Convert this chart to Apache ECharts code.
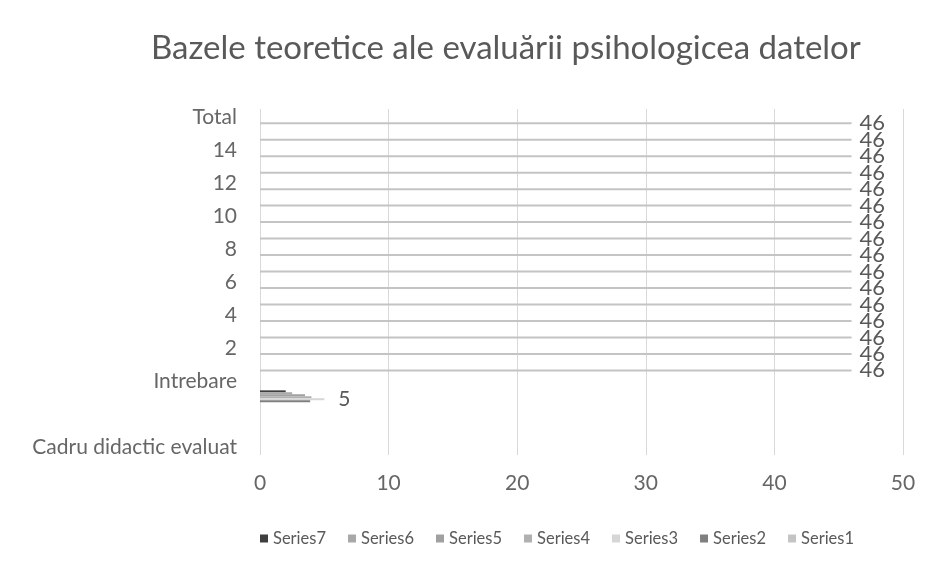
<!DOCTYPE html>
<html><head><meta charset="utf-8">
<script src="https://cdn.jsdelivr.net/npm/echarts@6/dist/echarts.min.js"></script>
<style>html,body{margin:0;padding:0;background:#fff}#c{width:933px;height:567px}</style>
</head><body><div id="c"></div>
<script>
const titleText = 'Bazele teoretice ale evaluării psihologicea datelor';
const categories = ['Cadru didactic evaluat','','','','Intrebare','1','2','3','4','5','6','7','8','9','10','11','12','13','14','15','Total'];
const seriesNames = ['Series7','Series6','Series5','Series4','Series3','Series2','Series1'];
const seriesColors = ['#3f3f3f','#a8a8a8','#a0a0a0','#b0b0b0','#d6d6d6','#7f7f7f','#c4c4c4'];
const legendOrder = ['Series7','Series6','Series5','Series4','Series3','Series2','Series1'];
const xTicks = [0, 50, 10];
const series7Values = [null,null,null,2,null,null,null,null,null,null,null,null,null,null,null,null,null,null,null,null,null];
const series6Values = [null,null,null,2.5,null,null,null,null,null,null,null,null,null,null,null,null,null,null,null,null,null];
const series5Values = [null,null,null,3.5,null,null,null,null,null,null,null,null,null,null,null,null,null,null,null,null,null];
const series4Values = [null,null,null,4,null,null,null,null,null,null,null,null,null,null,null,null,null,null,null,null,null];
const series3Values = [null,null,null,5,null,null,null,null,null,null,null,null,null,null,null,null,null,null,null,null,null];
const series2Values = [null,null,null,3.9,null,null,null,null,null,null,null,null,null,null,null,null,null,null,null,null,null];
const series1Values = [null,null,null,null,null,46,46,46,46,46,46,46,46,46,46,46,46,46,46,46,46];
const allValues = [series7Values,series6Values,series5Values,series4Values,series3Values,series2Values,series1Values];
const labelled = {Series1: true, Series3: true};

const FONT = 'Lato, "Open Sans", sans-serif';
const chart = echarts.init(document.getElementById('c'));
chart.setOption({
  animation: false,
  backgroundColor: '#fff',
  title: {text: titleText, left: 146, top: 27,
    textStyle: {color: '#595959', fontSize: 33, fontWeight: 'normal', fontFamily: FONT}},
  legend: {data: legendOrder, bottom: 15, left: 255, itemWidth: 8, itemHeight: 8, itemGap: 22,
    icon: 'rect', textStyle: {color: '#595959', fontSize: 16.5, fontFamily: FONT}},
  grid: {left: 260, right: 30, top: 109, bottom: 112, containLabel: false},
  xAxis: {type: 'value', min: xTicks[0], max: xTicks[1], interval: xTicks[2],
    axisLine: {show: false}, axisTick: {show: false},
    axisLabel: {color: '#666', fontSize: 21, fontFamily: FONT, margin: 18},
    splitLine: {show: true, lineStyle: {color: '#d9d9d9', width: 1}}},
  yAxis: {type: 'category', data: categories,
    axisLine: {show: false}, axisTick: {show: false},
    axisLabel: {interval: 1, color: '#666', fontSize: 21, fontFamily: FONT, margin: 23}},
  series: seriesNames.map((n, i) => ({
    name: n, type: 'bar', data: allValues[i], barWidth: 2, barGap: '0%', barCategoryGap: '10%',
    itemStyle: {color: seriesColors[i]},
    label: {show: !!labelled[n], position: 'right', distance: n === 'Series1' ? 8 : 14,
      color: '#595959', fontSize: n === 'Series1' ? 22 : 21, fontFamily: FONT}
  }))
});
</script></body></html>
